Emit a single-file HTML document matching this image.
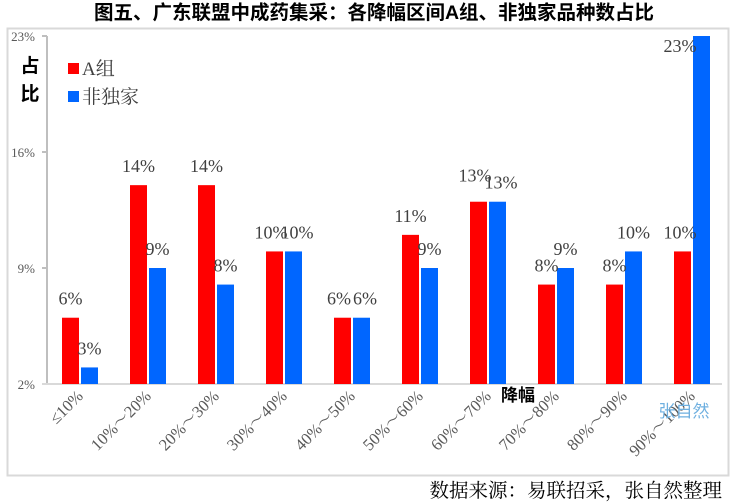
<!DOCTYPE html>
<html><head><meta charset="utf-8"><style>
body{margin:0;background:#fff;}
svg{display:block;}
.t{font-family:"Liberation Serif","Noto Serif CJK SC",serif;fill:#404040;font-size:18px;}
.c{font-family:"Liberation Serif","Noto Serif CJK SC",serif;fill:#595959;font-size:16.5px;}
</style></head><body>
<svg width="735" height="504" xmlns="http://www.w3.org/2000/svg">
<rect x="7.5" y="28.5" width="721" height="447" fill="#fff" stroke="#d9d9d9" stroke-width="2"/>
<text x="374" y="19" text-anchor="middle" font-family="Liberation Sans,'Noto Sans CJK SC',sans-serif" font-weight="bold" font-size="19.5" fill="#000">图五、广东联盟中成药集采：各降幅区间A组、非独家品种数占比</text>
<line x1="47" y1="36" x2="47" y2="385" stroke="#bfbfbf" stroke-width="2"/>
<line x1="42" y1="384" x2="722" y2="384" stroke="#d9d9d9" stroke-width="2"/>
<g stroke="#bfbfbf" stroke-width="2"><line x1="42" y1="36" x2="47" y2="36"/><line x1="42" y1="152" x2="47" y2="152"/><line x1="42" y1="268" x2="47" y2="268"/></g>
<g class="c" text-anchor="end" style="font-size:13px"><text x="35" y="41">23%</text><text x="35" y="157">16%</text><text x="35" y="273">9%</text><text x="35" y="389">2%</text></g>
<text x="30" y="72" text-anchor="middle" font-family="'Noto Sans CJK SC',sans-serif" font-weight="bold" font-size="19" fill="#000">占</text>
<text x="30" y="100" text-anchor="middle" font-family="'Noto Sans CJK SC',sans-serif" font-weight="bold" font-size="19" fill="#000">比</text>
<rect x="68" y="63" width="11" height="11" fill="#ff0000"/><text class="t" x="82" y="75" style="font-size:19px">A组</text>
<rect x="68" y="91" width="11" height="11" fill="#0066ff"/><text class="t" x="82" y="103" style="font-size:19px">非独家</text>
<g id="bars"></g>
<text x="518" y="401" text-anchor="middle" font-family="'Noto Sans CJK SC',sans-serif" font-weight="bold" font-size="17" fill="#000">降幅</text>
<text x="684" y="417" text-anchor="middle" font-family="'Noto Sans CJK SC',sans-serif" font-size="17" fill="#6fb0e0">张自然</text>
<text x="722" y="497" text-anchor="end" font-family="'Noto Serif CJK SC',serif" font-size="19.5" fill="#000">数据来源：易联招采，张自然整理</text>
</svg>
<script>
var A=[6,14,14,10,6,11,13,8,8,10],B=[3,9,8,10,6,9,13,9,10,23];
var cats=["≤10%","10%～20%","20%～30%","30%～40%","40%～50%","50%～60%","60%～70%","70%～80%","80%～90%","90%～100%"];
var g=document.getElementById('bars'),h='';
function y(v){return 384-(v-2)*16.571;}
for(var i=0;i<10;i++){var x=62+68*i;
h+='<rect x="'+x+'" y="'+y(A[i])+'" width="17" height="'+(384-y(A[i]))+'" fill="#ff0000"/>';
h+='<rect x="'+(x+19)+'" y="'+y(B[i])+'" width="17" height="'+(384-y(B[i]))+'" fill="#0066ff"/>';
var ax=x+8.5,ay=y(A[i])-13,bx=x+27.5,by=y(B[i])-13;
if(i==6){ay=y(A[i])-20;ax=x+5;bx=x+31;}
if(i==9){bx=x+6;by=y(B[i])+16;ax=x+6;}
if(i==4){ax=x+5;bx=x+31;}
if(i==3){ax=x+5;bx=x+31;}
h+='<text class="t" x="'+ax+'" y="'+ay+'" text-anchor="middle">'+A[i]+'%</text>';
h+='<text class="t" x="'+bx+'" y="'+by+'" text-anchor="middle">'+B[i]+'%</text>';
var cx=x+22;
h+='<text class="c" transform="translate('+cx+',397) rotate(-45)" text-anchor="end">'+cats[i]+'</text>';}
g.innerHTML=h;
</script>
</body></html>
